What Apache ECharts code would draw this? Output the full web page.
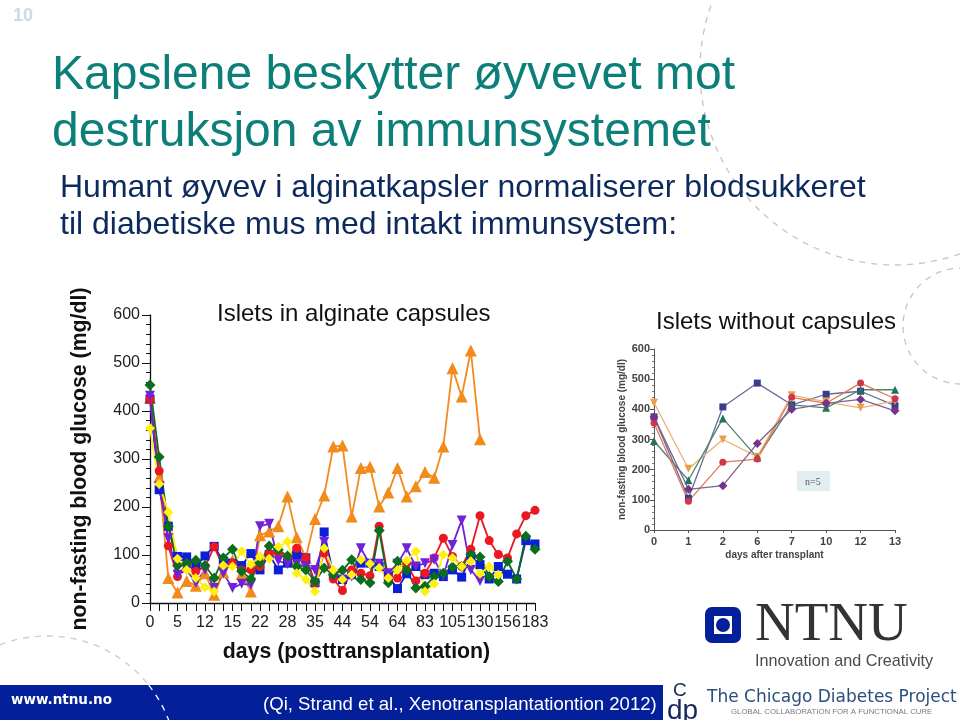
<!DOCTYPE html>
<html><head><meta charset="utf-8">
<style>html,body{margin:0;padding:0;background:#fff}#c{width:960px;height:720px}</style>
<script src="https://cdn.jsdelivr.net/npm/echarts@6/dist/echarts.min.js"></script>
</head><body><div id="c"></div>
<script>
const days = [0,1,3,5,7,9,12,13,14,15,17,20,22,24,26,28,30,32,35,38,41,44,47,50,54,57,60,64,70,76,83,90,97,105,113,121,130,138,147,156,165,174,183];
const orange = [427,262,52,22,46,36,62,17,64,89,61,24,141,149,160,222,137,94,175,224,326,328,180,281,284,201,230,281,222,243,273,261,326,489,430,526,341];
const blue = [425,236,160,97,96,76,98,118,87,83,78,103,69,101,69,83,101,94,42,148,59,49,59,83,83,76,55,30,61,76,59,62,55,69,54,97,80,50,76,60,50,130,123];
const red = [425,275,119,55,81,66,76,117,76,83,69,69,76,104,104,94,114,94,42,104,50,26,69,62,57,160,52,52,83,46,62,94,135,97,76,112,182,130,101,94,144,182,193];
const purple = [432,243,135,59,69,42,69,31,62,31,40,38,160,165,88,81,81,76,69,127,55,49,55,114,80,82,62,82,114,76,83,90,57,121,172,69,46];
const green = [454,304,160,78,83,89,78,52,94,112,66,50,83,119,111,98,76,69,45,73,59,68,90,49,42,151,42,87,68,31,35,55,62,75,76,101,96,55,45,87,50,139,112];
const yellow = [364,248,189,92,69,52,33,24,78,76,108,80,97,92,117,128,62,49,24,114,69,49,59,90,82,73,52,69,88,108,24,40,101,94,76,87,61,76,59];

const days2 = ['0','1','2','6','7','10','12','13'];
const navy2 = [375,105,408,487,415,450,460,412];
const red2 = [355,95,225,235,440,420,487,435];
const green2 = [295,165,370,240,415,405,465,465];
const orange2 = [422,203,300,243,447,425,405,428];
const purple2 = [375,135,147,287,400,420,433,395];

const F = '"Liberation Sans", Arial, sans-serif';
const tri = 'triangle';
const invTri = 'path://M0,0 L10,0 L5,10 Z';

function main(name, data, color, symbol, size, line) {
  return {name, type:'line', data, xAxisIndex:0, yAxisIndex:0, symbol, symbolSize:size, clip:false,
    showSymbol:true, showAllSymbol:true, animation:false,
    lineStyle:{color: line||color, width:1.8}, itemStyle:{color}};
}
function side(name, data, color, line, symbol, size) {
  return {name, type:'line', data, xAxisIndex:1, yAxisIndex:1, symbol, symbolSize:size, clip:false,
    showSymbol:true, showAllSymbol:true, animation:false,
    lineStyle:{color:line, width:1.3}, itemStyle:{color}};
}
function dashArc(cx, cy, r, a0, a1, color) {
  return {type:'arc', silent:true, z:0, shape:{cx,cy,r,startAngle:a0*Math.PI/180,endAngle:a1*Math.PI/180,clockwise:true},
    style:{fill:null,stroke:color,lineWidth:1.3,lineDash:[6,6]}};
}
function txt(x,y,text,font,fill,extra) {
  return {type:'text', x, y, silent:true, z:5, style:Object.assign({text,font,fill,textVerticalAlign:'middle'},extra||{})};
}

const chart = echarts.init(document.getElementById('c'));
chart.setOption({
  animation:false,
  backgroundColor:'#fff',
  title:[
    {text:'Kapslene beskytter øyvevet mot\ndestruksjon av immunsystemet', left:47, top:42,
     textStyle:{fontFamily:F,fontSize:48,fontWeight:'normal',color:'#0b7f78',lineHeight:57}},
    {text:'Humant øyvev i alginatkapsler normaliserer blodsukkeret\ntil diabetiske mus med intakt immunsystem:', left:55, top:165,
     textStyle:{fontFamily:F,fontSize:32,fontWeight:'normal',color:'#0c2a5e',lineHeight:37}},
    {text:'Islets in alginate capsules', left:212, top:297,
     textStyle:{fontFamily:F,fontSize:24,fontWeight:'normal',color:'#111'}},
    {text:'Islets without capsules', left:651, top:305,
     textStyle:{fontFamily:F,fontSize:24,fontWeight:'normal',color:'#111'}}
  ],
  grid:[
    {left:150, top:315, width:385, height:288},
    {left:654, top:349, width:241, height:181}
  ],
  xAxis:[
    {type:'category', gridIndex:0, data:days, boundaryGap:false,
     name:'days (posttransplantation)', nameLocation:'middle', nameGap:39,
     nameTextStyle:{fontFamily:F,fontSize:21.3,fontWeight:'bold',color:'#111',padding:[0,0,0,28]},
     axisLine:{lineStyle:{color:'#111',width:1.3}},
     axisTick:{show:true,length:8,interval:0,alignWithLabel:true,lineStyle:{color:'#111',width:1}},
     axisLabel:{interval:2,fontFamily:F,fontSize:16,color:'#222',margin:12,hideOverlap:false,showMaxLabel:true},
     splitLine:{show:false}},
    {type:'category', gridIndex:1, data:days2, boundaryGap:false,
     name:'days after transplant', nameLocation:'middle', nameGap:20,
     nameTextStyle:{fontFamily:F,fontSize:10,fontWeight:'bold',color:'#444'},
     axisLine:{lineStyle:{color:'#555',width:1}},
     axisTick:{show:true,length:3,alignWithLabel:true,lineStyle:{color:'#555'}},
     axisLabel:{interval:0,fontFamily:F,fontSize:11,fontWeight:'bold',color:'#444',margin:6},
     splitLine:{show:false}}
  ],
  yAxis:[
    {type:'value', gridIndex:0, min:0, max:600, interval:100,
     name:'non-fasting blood glucose (mg/dl)', nameLocation:'middle', nameGap:59, nameRotate:90,
     nameTextStyle:{fontFamily:F,fontSize:21.3,fontWeight:'bold',color:'#111'},
     axisLine:{show:true,lineStyle:{color:'#111',width:1.3}},
     axisTick:{show:true,length:8,lineStyle:{color:'#111'}},
     minorTick:{show:true,splitNumber:5,length:4,lineStyle:{color:'#111'}},
     axisLabel:{fontFamily:F,fontSize:16,color:'#222',margin:10},
     splitLine:{show:false},minorSplitLine:{show:false}},
    {type:'value', gridIndex:1, min:0, max:600, interval:100,
     name:'non-fasting blood glucose (mg/dl)', nameLocation:'middle', nameGap:24, nameRotate:90,
     nameTextStyle:{fontFamily:F,fontSize:10,fontWeight:'bold',color:'#444'},
     axisLine:{show:true,lineStyle:{color:'#555',width:1}},
     axisTick:{show:true,length:4,lineStyle:{color:'#555'}},
     minorTick:{show:true,splitNumber:5,length:2,lineStyle:{color:'#777'}},
     axisLabel:{fontFamily:F,fontSize:11,fontWeight:'bold',color:'#444',margin:4},
     splitLine:{show:false},minorSplitLine:{show:false}}
  ],
  series:[
    main('orange',orange,'#f28a1c',tri,12),
    main('blue',blue,'#0a1fd6','rect',9),
    main('red',red,'#ee1620','circle',9),
    main('purple',purple,'#6f22d8',invTri,10),
    main('green',green,'#0b6e1f','diamond',11),
    main('yellow',yellow,'#fff010','diamond',10),
    side('navy2',navy2,'#3a3d8e','#6a6a96','rect',7),
    side('orange2',orange2,'#eb9f4a','#eeb070',invTri,8),
    side('green2',green2,'#25725a','#4c8270',tri,8),
    side('red2',red2,'#cf3648','#e0785a','circle',7),
    side('purple2',purple2,'#75348a','#85608f','diamond',9)
  ],
  graphic:[
    dashArc(895,70,195,0,360,'#c4c4c4'),
    dashArc(961,326,58,90,270,'#c4c4c4'),
    dashArc(47,766,130,180,321.5,'#cfc8cf'),
    {type:'rect',silent:true,z:1,shape:{x:0,y:685,width:663,height:35},style:{fill:'#03209a'}},
    Object.assign(dashArc(47,766,130,321.5,345,'#ffffff'),{z:2}),
    txt(13,16,'10','bold 18px '+F,'#c8dde2'),
    txt(11,700,'www.ntnu.no','bold 13.5px "DejaVu Sans", sans-serif','#ffffff'),
    txt(263,705,'(Qi, Strand et al., Xenotransplantationtion 2012)','18.6px '+F,'#ffffff'),
    {type:'rect',silent:true,z:3,shape:{x:797,y:471,width:33,height:20},style:{fill:'#e3eef2'}},
    txt(805,482,'n=5','10px "Liberation Serif", serif','#555'),
    {type:'rect',silent:true,z:3,shape:{x:705,y:607,width:36,height:36,r:7},style:{fill:'#03209a'}},
    {type:'rect',silent:true,z:4,shape:{x:714,y:616,width:18,height:18},style:{fill:'#ffffff'}},
    {type:'circle',silent:true,z:5,shape:{cx:723,cy:625,r:7},style:{fill:'#03209a'}},
    txt(755,626,'NTNU','55px "Liberation Serif", serif','#333333'),
    txt(755,662,'Innovation and Creativity','16.2px "Liberation Sans Narrow", "Liberation Sans", sans-serif','#4a4a4a'),
    txt(673,691,'C','19px "Liberation Sans", sans-serif','#16285e'),
    txt(667,711,'dp','28px "Liberation Sans", sans-serif','#16285e'),
    txt(707,698,'The Chicago Diabetes Project','17px "DejaVu Sans", sans-serif','#2b4f7c'),
    txt(731,712,'GLOBAL COLLABORATION FOR A FUNCTIONAL CURE','7.8px "Liberation Sans", sans-serif','#7a7a7a')
  ]
});
</script></body></html>
